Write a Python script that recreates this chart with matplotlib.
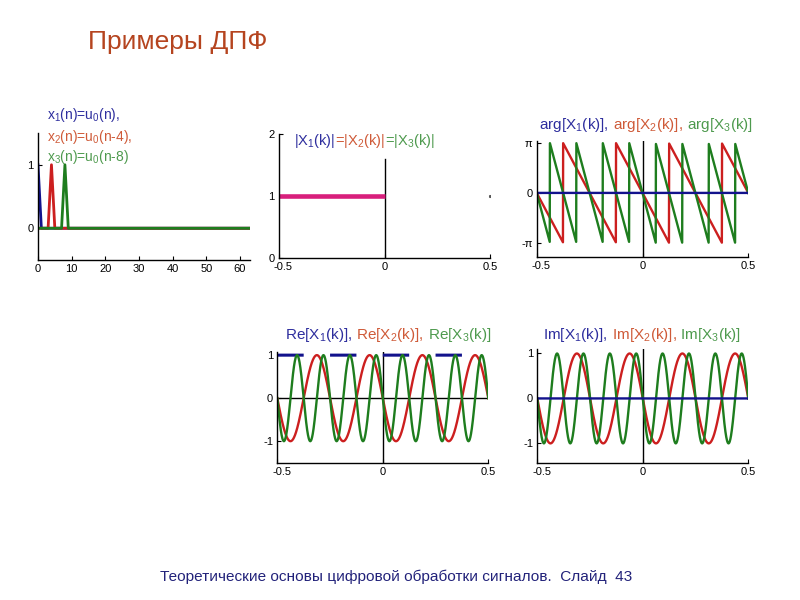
import numpy as np
import matplotlib
matplotlib.use('Agg')
import matplotlib.pyplot as plt
import matplotlib.transforms as mtransforms

plt.rcParams['font.family'] = ['Liberation Sans', 'DejaVu Sans']
plt.rcParams['mathtext.fontset'] = 'custom'
plt.rcParams['mathtext.rm'] = 'Liberation Sans'
plt.rcParams['mathtext.it'] = 'Liberation Sans:italic'
plt.rcParams['mathtext.default'] = 'regular'
plt.rcParams['lines.scale_dashes'] = False
plt.rcParams['axes.unicode_minus'] = False

# ---- data ----
N = 64                      # signal length
shifts = [0, 4, 8]          # x1 = u0(n), x2 = u0(n-4), x3 = u0(n-8)
x_ticks_n = [0, 10, 20, 30, 40, 50, 60]
f_ticks = [-0.5, 0, 0.5]
f_tick_labels = ['-0.5', '0', '0.5']
arg_ticks = [-np.pi, 0, np.pi]
arg_tick_labels = ['-\u03c0', '0', '\u03c0']

n = np.arange(N)
signals = [(n == s).astype(float) for s in shifts]
f = np.linspace(-0.5, 0.5, 1025)
E = np.exp(-2j * np.pi * np.outer(f, n))
spectra = [E @ x for x in signals]

# ---- colours ----
c_line = ['#12128c', '#cc1f1f', '#1e7d1e']
c_text = ['#2e2e9e', '#cf5a38', '#4e9a4e']
c_mag = '#d81f7c'

W, H = 800, 600
fig = plt.figure(figsize=(8, 6), dpi=100)


def add_ax(left, top, right, bottom):
    ax = fig.add_axes([left / W, 1 - bottom / H, (right - left) / W, (bottom - top) / H])
    for s in ['top', 'right']:
        ax.spines[s].set_visible(False)
    for s in ['left', 'bottom']:
        ax.spines[s].set_linewidth(1.0)
    ax.tick_params(direction='in', length=3, width=0.8, labelsize=8, pad=3)
    return ax


def f_axis(ax):
    ax.set_xlim(-0.5, 0.5)
    ax.set_xticks(f_ticks)
    ax.set_xticklabels(f_tick_labels)
    lab = ax.get_xticklabels()[0]
    lab.set_transform(lab.get_transform() +
                      mtransforms.ScaledTranslation(4.5 / 100, 0, fig.dpi_scale_trans))


LW = 1.7

# panel 1: signals
ax1 = add_ax(38, 133, 250, 260)
for x, c in zip(signals, c_line):
    ax1.plot(n, x, color=c, lw=2)
ax1.set_xlim(0, 63)
ax1.set_ylim(-0.5, 1.5)
ax1.set_xticks(x_ticks_n)
ax1.set_yticks([0, 1])

# panel 2: magnitude
ax2 = add_ax(279, 134, 490, 258.3)
mag = np.abs(spectra[0])
mask = f <= 0
ax2.axvline(0, ymin=0, ymax=0.8, color='black', lw=1)
ax2.plot(f[mask], mag[mask], color=c_mag, lw=3.3, solid_capstyle='butt')
ax2.plot(f[-1:], mag[-1:], 's', ms=1.2, color='0.35')
f_axis(ax2)
ax2.set_ylim(0, 2)
ax2.set_yticks([0, 1, 2])

# panel 3: phase
ax3 = add_ax(536.7, 141, 748.3, 256.7)
ax3.axvline(0, color='black', lw=1)
for i in [1, 2, 0]:
    ax3.plot(f, np.angle(spectra[i]), color=c_line[i], lw=LW)
f_axis(ax3)
ax3.set_ylim(-4.03, 3.28)
ax3.set_yticks(arg_ticks)
ax3.set_yticklabels(arg_tick_labels)

# panel 4: "Re" (as drawn on the slide)
ax4 = add_ax(277.3, 351.7, 488.3, 462.7)
ax4.axvline(0, color='black', lw=1)
ax4.axhline(0, color='black', lw=1)
dash_pt = 0.125 * (488.3 - 277.3) * 72 / 100
ax4.plot(f, np.real(spectra[0]), color=c_line[0], lw=2.2,
         ls=(0, (dash_pt, dash_pt)), dash_capstyle='butt')
for i in [1, 2]:
    ax4.plot(f, np.imag(spectra[i]), color=c_line[i], lw=LW)
f_axis(ax4)
ax4.set_ylim(-1.5, 1.08)
ax4.set_yticks([-1, 0, 1])

# panel 5: Im
ax5 = add_ax(537.3, 349, 748.3, 462.7)
ax5.axvline(0, color='black', lw=1)
for i in [1, 2, 0]:
    ax5.plot(f, np.imag(spectra[i]), color=c_line[i], lw=LW)
f_axis(ax5)
ax5.set_ylim(-1.43, 1.1)
ax5.set_yticks([-1, 0, 1])

renderer = fig.canvas.get_renderer()


def multi_text(x, y, parts, size):
    for s, c in parts:
        t = fig.text(x / W, 1 - y / H, s, color=c, fontsize=size, va='baseline', ha='left')
        x += t.get_window_extent(renderer).width


# titles / labels
fig.text(88 / W, 1 - 48.5 / H, 'Примеры ДПФ', color='#b5441f', fontsize=19,
         va='baseline', ha='left')
fig.text(160 / W, 1 - 581 / H,
         'Теоретические основы цифровой обработки сигналов.  Слайд  43',
         color='#22227a', fontsize=11.1, va='baseline', ha='left')

multi_text(46.7, 119.5, [('x$_1$(n)=u$_0$(n),', c_text[0])], 10)
multi_text(46.7, 140.5, [('x$_2$(n)=u$_0$(n-4),', c_text[1])], 10)
multi_text(46.7, 161.5, [('x$_3$(n)=u$_0$(n-8)', c_text[2])], 10)

multi_text(294, 145, [('|X$_1$(k)|', c_text[0]), ('=|X$_2$(k)|', c_text[1]),
                      ('=|X$_3$(k)|', c_text[2])], 10.5)
multi_text(539, 129, [('arg[X$_1$(k)],', c_text[0]), (' arg[X$_2$(k)],', c_text[1]),
                      (' arg[X$_3$(k)]', c_text[2])], 11)
multi_text(285, 338.5, [('Re[X$_1$(k)],', c_text[0]), (' Re[X$_2$(k)],', c_text[1]),
                        (' Re[X$_3$(k)]', c_text[2])], 11)
multi_text(543, 338.5, [('Im[X$_1$(k)],', c_text[0]), (' Im[X$_2$(k)],', c_text[1]),
                        (' Im[X$_3$(k)]', c_text[2])], 11)

fig.savefig('out.png', dpi=100)
